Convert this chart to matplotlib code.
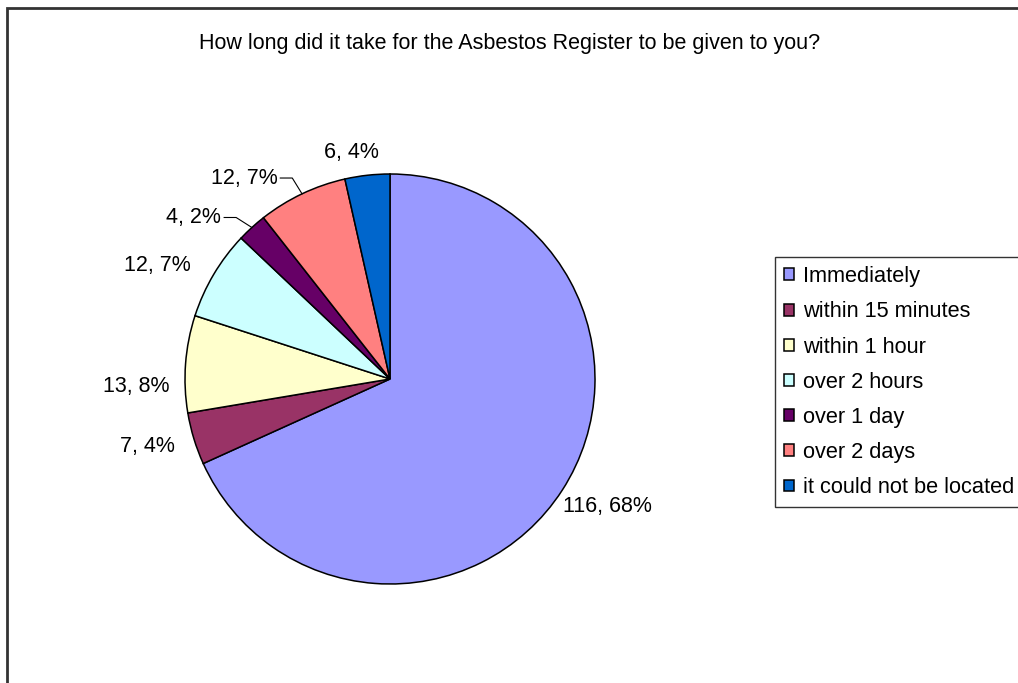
import matplotlib
matplotlib.use("Agg")
import matplotlib.pyplot as plt
from matplotlib.patches import Rectangle
import numpy as np

plt.rcParams['font.family'] = ['Liberation Sans', 'DejaVu Sans']

title = "How long did it take for the Asbestos Register to be given to you?"
categories = ["Immediately", "within 15 minutes", "within 1 hour", "over 2 hours",
              "over 1 day", "over 2 days", "it could not be located"]
counts = [116, 7, 13, 12, 4, 12, 6]
percents = [68, 4, 8, 7, 2, 7, 4]
colors = ["#9999FF", "#993366", "#FFFFCC", "#CCFFFF", "#660066", "#FF8080", "#0066CC"]

W, H = 1018, 683
FS = 15.5
LFS = 15.7
fig = plt.figure(figsize=(W / 100, H / 100), dpi=100)
ax = fig.add_axes([0, 0, 1, 1])
ax.set_xlim(0, W)
ax.set_ylim(0, H)
ax.set_aspect('equal')
ax.axis('off')

cx, cy, R = 390, H - 379, 205
wedges, _ = ax.pie(counts, colors=colors, startangle=90, counterclock=False,
                   center=(cx, cy), radius=R,
                   wedgeprops=dict(edgecolor='black', linewidth=1.1))
ax.set_xlim(0, W)
ax.set_ylim(0, H)

# label placement: (angle adjust deg, radius factor, leader)
place = [(2.5, 1.23, False), (-1.5, 1.23, False), (6, 1.24, False), (4.7, 1.26, False),
         (8.2, 1.24, True), (10.6, 1.212, True), (3.2, 1.122, False)]
total = sum(counts)
cum = 0
texts = []
for i, (c, p) in enumerate(zip(counts, percents)):
    mid = 90 - (cum + c / 2) / total * 360
    cum += c
    da, rf, leader = place[i]
    a = np.deg2rad(mid + da)
    lx, ly = cx + rf * R * np.cos(a), cy + rf * R * np.sin(a)
    t = ax.text(lx, ly, f"{c}, {p}%", ha='center', va='center', fontsize=FS)
    if leader:
        texts.append((t, mid, ly))

fig.text(510 / W, 1 - 43 / H, title, ha='center', va='center', fontsize=FS)

leg = ax.legend(wedges, categories, loc='upper left',
                bbox_to_anchor=(775 / W, 1 - 257 / H), bbox_transform=fig.transFigure,
                fontsize=LFS, frameon=True, fancybox=False, shadow=False,
                handlelength=0.46, handleheight=0.46, handletextpad=0.42,
                labelspacing=0.65, borderpad=0.42, borderaxespad=0)
leg.get_frame().set_edgecolor('black')
leg.get_frame().set_linewidth(1.0)

fig.canvas.draw()
renderer = fig.canvas.get_renderer()
for t, mid, ly in texts:
    bb = t.get_window_extent(renderer)
    x0 = bb.x1 + 3
    x1 = x0 + 12
    am = np.deg2rad(mid)
    ex, ey = cx + 1.0 * R * np.cos(am), cy + 1.0 * R * np.sin(am)
    ax.plot([x0, x1, ex], [ly, ly, ey], color='black', lw=0.8)

fig.patches.append(Rectangle((7 / W, -0.1), 1.2, 1 - 8 / H + 0.1, transform=fig.transFigure,
                             fill=False, edgecolor='#333333', linewidth=2))

fig.savefig("out.png", dpi=100)
